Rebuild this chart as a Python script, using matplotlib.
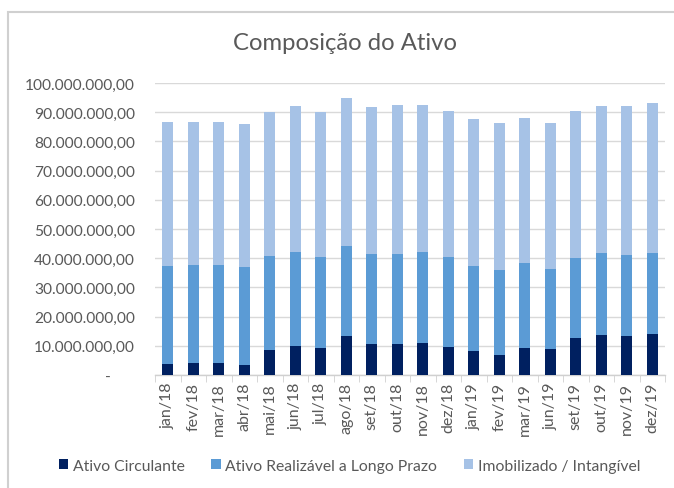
import matplotlib
matplotlib.use("Agg")
import matplotlib.pyplot as plt
from matplotlib.patches import Rectangle
from matplotlib.ticker import FuncFormatter
import numpy as np

plt.rcParams['font.family'] = ['Lato', 'DejaVu Sans']

categories = ["jan/18", "fev/18", "mar/18", "abr/18", "mai/18", "jun/18", "jul/18",
              "ago/18", "set/18", "out/18", "nov/18", "dez/18", "jan/19", "fev/19",
              "mar/19", "jun/19", "set/19", "out/19", "nov/19", "dez/19"]

# values in millions
totals = [86.7, 86.7, 86.7, 86.1, 90.2, 92.1, 90.2, 95.0, 91.8, 92.5,
          92.5, 90.5, 87.7, 86.4, 88.0, 86.4, 90.5, 92.1, 92.1, 93.2]
top_lp = [37.2, 37.6, 37.6, 36.9, 40.6, 42.0, 40.3, 44.1, 41.3, 41.3,
          42.0, 40.4, 37.3, 36.1, 38.2, 36.3, 40.1, 41.7, 41.0, 41.7]
circulante = [3.8, 4.1, 4.1, 3.4, 8.6, 10.0, 9.1, 13.2, 10.5, 10.5,
              11.1, 9.5, 8.2, 7.0, 9.2, 8.9, 12.7, 13.8, 13.2, 14.1]

circ = np.array(circulante) * 1e6
realizavel = (np.array(top_lp) - np.array(circulante)) * 1e6
imob = (np.array(totals) - np.array(top_lp)) * 1e6

series_names = ["Ativo Circulante", "Ativo Realizável a Longo Prazo", "Imobilizado / Intangível"]
colors = ["#002060", "#5b9bd5", "#a6c2e6"]

W, H = 674, 489
fig = plt.figure(figsize=(W / 100, H / 100), dpi=100)
fig.patch.set_facecolor("white")

# chart frame
fig.patches.append(Rectangle((8 / W, -0.1), 1.2, (H - 12.5) / H + 0.1, transform=fig.transFigure,
                             fill=False, edgecolor="#d0d0d0", linewidth=1.5))

ax = fig.add_axes([155 / W, (H - 376) / H, (665 - 155) / W, (376 - 84) / H])
x = np.arange(len(categories))
bw = 0.42
ax.bar(x, circ, bw, color=colors[0], label=series_names[0], zorder=3)
ax.bar(x, realizavel, bw, bottom=circ, color=colors[1], label=series_names[1], zorder=3)
ax.bar(x, imob, bw, bottom=circ + realizavel, color=colors[2], label=series_names[2], zorder=3)

ax.set_xlim(-0.5, len(categories) - 0.5)
ax.set_ylim(0, 100e6)
ax.set_yticks(np.arange(0, 100e6 + 1, 10e6))


def fmt(v, pos):
    if v == 0:
        return "-      "
    s = f"{v:,.2f}"
    return s.replace(",", "X").replace(".", ",").replace("X", ".")


ax.yaxis.set_major_formatter(FuncFormatter(fmt))
ax.grid(axis="y", color="#d9d9d9", linewidth=1, zorder=0)
for s in ["left", "right", "top"]:
    ax.spines[s].set_visible(False)
ax.spines["bottom"].set_color("#d0d0d0")
ax.spines["bottom"].set_linewidth(1)
ax.tick_params(axis="y", length=0, pad=14.4, labelsize=11.2, labelcolor="#595959")
ax.set_xticks(x)
ax.set_xticklabels(categories, rotation=90, fontsize=11.5, color="#595959")
ax.tick_params(axis="x", which="major", length=0, pad=5)
ax.set_xticks(np.arange(-0.5, len(categories)), minor=True)
ax.tick_params(axis="x", which="minor", length=5, color="#d0d0d0")

fig.text(345 / W, (H - 44) / H, "Composição do Ativo", ha="center", va="center",
         fontsize=17.2, color="#595959")

handles, labels = ax.get_legend_handles_labels()
leg = fig.legend(handles, labels, loc="center", bbox_to_anchor=(349.5 / W, (H - 467) / H), ncol=3,
                 frameon=False, fontsize=11.3, handlelength=0.6, handleheight=0.6,
                 handletextpad=0.3, columnspacing=1.7, labelcolor="#595959",
                 borderpad=0, borderaxespad=0)

fig.savefig("out.png", dpi=100)
